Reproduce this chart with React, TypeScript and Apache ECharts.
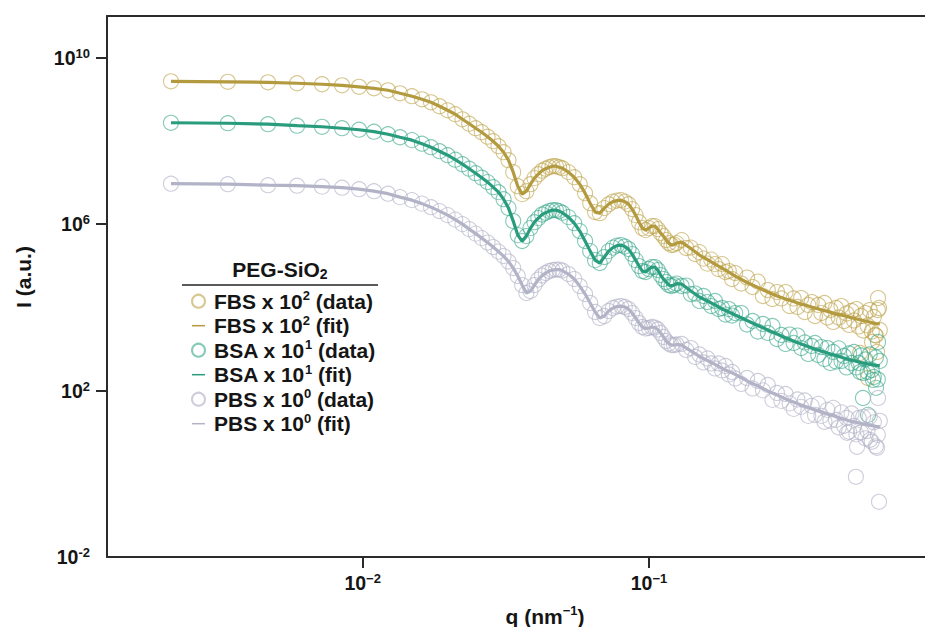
import React, { useEffect, useRef } from 'react';
import * as echarts from 'echarts';

// q grid of the measured points (nm^-1)
const qData = [
  0.00214, 0.00338, 0.00467, 0.0059, 0.00721, 0.00847, 0.00971, 0.01095, 0.01226, 0.0135, 0.01486, 0.01611, 0.01732,
  0.01855, 0.0198, 0.02105, 0.0223, 0.02355, 0.0248, 0.02605, 0.0273, 0.02855, 0.0298, 0.03105, 0.0323, 0.03355, 0.0348,
  0.03605, 0.0373, 0.03855, 0.0398, 0.04105, 0.0423, 0.04355, 0.0448, 0.04605, 0.0473, 0.04855, 0.0498,
  0.0523, 0.0548, 0.0573, 0.0598, 0.0623, 0.0648, 0.0673, 0.0698, 0.0723, 0.0748, 0.0773, 0.0798, 0.0823, 0.0848, 0.0873,
  0.0898, 0.0923, 0.0948, 0.0973, 0.0998, 0.1023, 0.1048, 0.1073, 0.1098, 0.1123, 0.1148, 0.1173, 0.1198, 0.1223, 0.1248,
  0.13, 0.135, 0.14, 0.145, 0.15, 0.155, 0.16, 0.165, 0.17, 0.175, 0.18, 0.185, 0.19, 0.195, 0.2,
  0.21, 0.22, 0.23, 0.24, 0.25, 0.26, 0.27, 0.28, 0.29, 0.3, 0.31, 0.32, 0.33, 0.34, 0.35, 0.36, 0.37, 0.38, 0.39, 0.4,
  0.41, 0.42, 0.43, 0.44, 0.45, 0.46, 0.47, 0.48, 0.49, 0.5, 0.51, 0.52, 0.53, 0.54, 0.55, 0.56, 0.57, 0.58, 0.59, 0.6,
  0.61, 0.62, 0.63, 0.64,
];

const fbsData = [
  2.70e9, 2.62e9, 2.55e9, 2.42e9, 2.29e9, 2.16e9, 1.99e9, 1.83e9, 1.64e9, 1.39e9, 1.18e9, 9.98e8, 8.45e8,
  6.78e8, 5.43e8, 4.36e8, 3.30e8, 2.58e8, 2.01e8, 1.61e8, 1.26e8, 9.79e7, 7.43e7, 5.33e7, 3.43e7, 1.77e7, 8.15e6,
  5.24e6, 6.18e6, 9.10e6, 1.27e7, 1.58e7, 1.92e7, 2.14e7, 2.33e7, 2.46e7, 2.46e7, 2.33e7, 2.20e7,
  1.77e7, 1.34e7, 9.10e6, 5.53e6, 3.18e6, 1.94e6, 1.83e6, 2.42e6, 3.01e6, 3.46e6, 3.66e6, 3.76e6, 3.46e6, 3.01e6, 2.29e6,
  1.64e6, 1.11e6, 8.00e5, 7.16e5, 8.00e5, 8.93e5, 8.93e5, 7.57e5, 6.07e5, 5.14e5, 4.12e5, 3.49e5, 3.13e5, 3.21e5, 3.49e5,
  4.12e5, 2.65e5, 2.72e5, 1.90e5, 2.12e5, 1.48e5, 1.12e5, 1.40e5, 1.09e5, 8.30e4, 1.09e5, 7.03e4, 7.43e4, 4.78e4, 6.65e4,
  3.72e4, 5.19e4, 3.07e4, 4.16e4, 1.87e4, 2.60e4, 1.58e4, 2.33e4, 1.63e4, 2.33e4, 1.07e4, 1.63e4, 1.02e4, 1.67e4, 7.71e3,
  1.14e4, 1.34e4, 6.18e3, 1.14e4, 7.29e3, 1.27e4, 5.69e3, 8.61e3, 4.44e3, 9.62e3, 5.69e3, 1.07e4, 4.69e3, 7.10e3, 3.76e3,
  8.15e3, 4.82e3, 9.10e3, 3.46e3, 6.18e3, 2.77e3, 7.29e3, 3.66e3, 8.61e3, 2.62e3, 5.85e3, 2.10e3, 8.61e3, 2.85e3,
];

const bsaData = [
  2.72e8, 2.65e8, 2.51e8, 2.31e8, 2.18e8, 2.01e8, 1.85e8, 1.66e8, 1.44e8, 1.22e8, 1.04e8, 8.53e7, 7.03e7,
  5.64e7, 4.52e7, 3.52e7, 2.75e7, 2.14e7, 1.67e7, 1.30e7, 1.02e7, 7.71e6, 5.85e6, 3.97e6, 2.42e6, 1.18e6, 5.43e5,
  3.90e5, 5.14e5, 8.00e5, 1.11e6, 1.39e6, 1.69e6, 1.88e6, 2.05e6, 2.16e6, 2.16e6, 2.05e6, 1.88e6,
  1.47e6, 1.05e6, 6.78e5, 3.90e5, 2.24e5, 1.36e5, 1.16e5, 1.61e5, 2.24e5, 2.72e5, 3.04e5, 3.13e5, 2.88e5, 2.51e5, 1.90e5,
  1.36e5, 9.79e4, 7.43e4, 7.03e4, 8.30e4, 9.27e4, 9.27e4, 7.85e4, 5.96e4, 4.78e4, 4.05e4, 3.43e4, 3.24e4, 3.43e4, 3.72e4,
  3.24e4, 3.33e4, 2.08e4, 2.14e4, 1.42e4, 1.87e4, 1.34e4, 1.07e4, 1.42e4, 9.10e3, 9.62e3, 6.71e3, 9.10e3, 6.35e3, 7.29e3,
  7.29e3, 3.86e3, 4.69e3, 2.62e3, 3.97e3, 2.42e3, 3.56e3, 1.73e3, 2.16e3, 1.32e3, 2.22e3, 1.39e3, 2.10e3, 1.05e3, 1.43e3,
  7.57e2, 1.18e3, 1.39e3, 7.16e2, 1.11e3, 5.74e2, 1.05e3, 4.60e2, 8.45e2, 5.00e2, 1.03e3, 5.14e2, 6.78e2, 3.59e2, 7.78e2,
  4.60e2, 8.45e2, 3.59e2, 4.60e2, 6.97e2, 2.65e2, 5.58e2, 2.80e2, 7.36e2, 3.13e2, 2.12e2, 6.24e2, 1.85e2, 5.14e2,
];

const pbsData = [
  9.35e6, 9.10e6, 8.61e6, 8.38e6, 7.93e6, 7.50e6, 6.90e6, 6.18e6, 5.38e6, 4.44e6, 3.76e6, 3.10e6, 2.55e6,
  2.05e6, 1.64e6, 1.28e6, 9.98e5, 7.57e5, 5.90e5, 4.60e5, 3.59e5, 2.80e5, 2.18e5, 1.70e5, 1.26e5, 8.77e4, 5.64e4,
  3.43e4, 2.20e4, 2.46e4, 3.43e4, 4.65e4, 5.79e4, 6.65e4, 7.43e4, 7.85e4, 8.07e4, 8.07e4, 7.64e4,
  6.30e4, 4.78e4, 3.24e4, 2.08e4, 1.27e4, 7.71e3, 5.53e3, 6.18e3, 8.15e3, 9.62e3, 1.04e4, 1.07e4, 1.02e4, 9.10e3, 7.29e3,
  5.53e3, 4.20e3, 3.37e3, 3.10e3, 3.18e3, 3.37e3, 3.27e3, 2.93e3, 2.42e3, 1.94e3, 1.55e3, 1.35e3, 1.24e3, 1.24e3, 1.28e3,
  1.32e3, 9.44e2, 1.05e3, 6.41e2, 7.36e2, 4.73e2, 5.90e2, 4.48e2, 3.40e2, 4.48e2, 3.04e2, 3.90e2, 2.44e2, 2.80e2, 1.95e2,
  1.44e2, 2.01e2, 1.12e2, 1.70e2, 1.01e2, 1.36e2, 59.6, 87.7, 56.4, 83.0, 49.1, 36.2, 61.2, 40.5, 57.9,
  24.6, 42.8, 26.0, 47.8, 24.6, 17.7, 34.3, 18.7, 38.3, 19.7, 13.0, 29.9, 14.2, 22.0, 10.2,
  28.2, 14.2, 8.85, 22.0, 9.89, 23.3, 7.10, 10.7, 23.9, 5.85, 17.2, 4.56, 8.61, 18.7,
];

// scattered points at the very end of the q range
const fbsTailQ = [0.631, 0.636, 0.616, 0.626, 0.582, 0.546, 0.601];
const fbsTailI = [1.67e4, 9.62e3, 2.16e3, 8.45e2, 2.01e2, 8.00e2, 1.47e3];
const bsaTailQ = [0.631, 0.606, 0.559, 0.582, 0.546, 0.621];
const bsaTailI = [1.47e3, 1.80e2, 66.5, 26.0, 2.80e2, 1.16e2];
const pbsTailQ = [0.631, 0.626, 0.528, 0.636, 0.533, 0.492, 0.592];
const pbsTailI = [66.5, 4.20, 0.845, 0.212, 4.44, 9.62, 6.53];

// q grid of the fitted curves
const qFit = [
  0.00214, 0.00338, 0.00467, 0.0059, 0.00721, 0.00847, 0.00971, 0.01095, 0.01226, 0.0135, 0.01486, 0.01611, 0.01732,
  0.01855, 0.0198, 0.02105, 0.0223, 0.02355, 0.0248, 0.02605, 0.0273, 0.02855, 0.0298, 0.03105, 0.0323, 0.03355, 0.0348,
  0.03605, 0.0373, 0.03855, 0.0398, 0.04105, 0.0423, 0.04355, 0.0448, 0.04605, 0.0473, 0.04855, 0.0498,
  0.0523, 0.0548, 0.0573, 0.0598, 0.0623, 0.0648, 0.0673, 0.0698, 0.0723, 0.0748, 0.0773, 0.0798, 0.0823, 0.0848, 0.0873,
  0.0898, 0.0923, 0.0948, 0.0973, 0.0998, 0.1023, 0.1048, 0.1073, 0.1098, 0.1123, 0.1148, 0.1173, 0.1198, 0.1223, 0.1248,
  0.13, 0.14, 0.15, 0.16, 0.17, 0.18, 0.19, 0.2, 0.22, 0.24, 0.26, 0.28, 0.3, 0.34, 0.38, 0.42, 0.46, 0.5, 0.54, 0.58,
  0.62, 0.64,
];

const fbsFit = [
  2.70e9, 2.62e9, 2.55e9, 2.42e9, 2.29e9, 2.16e9, 1.99e9, 1.83e9, 1.64e9, 1.39e9, 1.18e9, 9.98e8, 8.45e8,
  6.78e8, 5.43e8, 4.36e8, 3.30e8, 2.58e8, 2.01e8, 1.61e8, 1.26e8, 9.79e7, 7.43e7, 5.33e7, 3.43e7, 1.77e7, 8.15e6,
  5.24e6, 6.18e6, 9.10e6, 1.27e7, 1.58e7, 1.92e7, 2.14e7, 2.33e7, 2.46e7, 2.46e7, 2.33e7, 2.20e7,
  1.77e7, 1.34e7, 9.10e6, 5.53e6, 3.18e6, 1.94e6, 1.83e6, 2.42e6, 3.01e6, 3.46e6, 3.66e6, 3.76e6, 3.46e6, 3.01e6, 2.29e6,
  1.64e6, 1.11e6, 8.00e5, 7.16e5, 8.00e5, 8.93e5, 8.93e5, 7.57e5, 6.07e5, 5.14e5, 4.12e5, 3.49e5, 3.13e5, 3.21e5, 3.49e5,
  3.69e5, 2.58e5, 1.80e5, 1.40e5, 1.09e5, 8.77e4, 7.03e4, 5.64e4, 3.94e4, 2.99e4, 2.33e4, 1.87e4, 1.58e4, 1.20e4, 9.62e3,
  7.93e3, 6.71e3, 5.85e3, 5.09e3, 4.56e3, 4.08e3, 3.97e3,
];

const bsaFit = [
  2.72e8, 2.65e8, 2.51e8, 2.31e8, 2.18e8, 2.01e8, 1.85e8, 1.66e8, 1.44e8, 1.22e8, 1.04e8, 8.53e7, 7.03e7,
  5.64e7, 4.52e7, 3.52e7, 2.75e7, 2.14e7, 1.67e7, 1.30e7, 1.02e7, 7.71e6, 5.85e6, 3.97e6, 2.42e6, 1.18e6, 5.43e5,
  3.90e5, 5.14e5, 8.00e5, 1.11e6, 1.39e6, 1.69e6, 1.88e6, 2.05e6, 2.16e6, 2.16e6, 2.05e6, 1.88e6,
  1.47e6, 1.05e6, 6.78e5, 3.90e5, 2.24e5, 1.36e5, 1.16e5, 1.61e5, 2.24e5, 2.72e5, 3.04e5, 3.13e5, 2.88e5, 2.51e5, 1.90e5,
  1.36e5, 9.79e4, 7.43e4, 7.03e4, 8.30e4, 9.27e4, 9.27e4, 7.85e4, 5.96e4, 4.78e4, 4.05e4, 3.43e4, 3.24e4, 3.43e4, 3.72e4,
  3.62e4, 2.46e4, 1.77e4, 1.42e4, 1.14e4, 9.10e3, 7.71e3, 6.53e3, 4.82e3, 3.66e3, 2.85e3, 2.29e3, 1.83e3, 1.32e3, 9.98e2,
  8.00e2, 6.59e2, 5.58e2, 4.86e2, 4.36e2, 4.01e2, 3.90e2,
];

const pbsFit = [
  9.35e6, 9.10e6, 8.61e6, 8.38e6, 7.93e6, 7.50e6, 6.90e6, 6.18e6, 5.38e6, 4.44e6, 3.76e6, 3.10e6, 2.55e6,
  2.05e6, 1.64e6, 1.28e6, 9.98e5, 7.57e5, 5.90e5, 4.60e5, 3.59e5, 2.80e5, 2.18e5, 1.70e5, 1.26e5, 8.77e4, 5.64e4,
  3.43e4, 2.20e4, 2.46e4, 3.43e4, 4.65e4, 5.79e4, 6.65e4, 7.43e4, 7.85e4, 8.07e4, 8.07e4, 7.64e4,
  6.30e4, 4.78e4, 3.24e4, 2.08e4, 1.27e4, 7.71e3, 5.53e3, 6.18e3, 8.15e3, 9.62e3, 1.04e4, 1.07e4, 1.02e4, 9.10e3, 7.29e3,
  5.53e3, 4.20e3, 3.37e3, 3.10e3, 3.18e3, 3.37e3, 3.27e3, 2.93e3, 2.42e3, 1.94e3, 1.55e3, 1.35e3, 1.24e3, 1.24e3, 1.28e3,
  1.24e3, 8.93e2, 6.59e2, 5.28e2, 4.24e2, 3.40e2, 2.88e2, 2.44e2, 1.70e2, 1.29e2, 97.9, 78.5, 63.0, 45.2, 34.3,
  27.5, 22.6, 18.7, 16.7, 15.0, 13.8, 13.4,
];

const xTickValues = [0.01, 0.1];
const yLabelValues = [1e-2, 1e2, 1e6, 1e10];
const yTickValues = [1e2, 1e6, 1e10];

const seriesNames = [
  'FBS x 10² (data)', 'FBS x 10² (fit)',
  'BSA x 10¹ (data)', 'BSA x 10¹ (fit)',
  'PBS x 10⁰ (data)', 'PBS x 10⁰ (fit)',
];
const legendRichText = [
  '{f|FBS x 10}{s|2}{a| (data)}', '{f|FBS x 10}{s|2}{a| (fit)}',
  '{f|BSA x 10}{s|1}{a| (data)}', '{f|BSA x 10}{s|1}{a| (fit)}',
  '{f|PBS x 10}{s|0}{a| (data)}', '{f|PBS x 10}{s|0}{a| (fit)}',
];

const FONT = '"Liberation Sans", Arial, Helvetica, sans-serif';
const INK = '#151515';

const GOLD = '#b39a3e';
const GOLD_C = 'rgba(190,163,75,0.78)';
const TEAL = '#2a9c7e';
const TEAL_C = 'rgba(52,165,135,0.75)';
const GRAY = '#b3b3c8';
const GRAY_C = 'rgba(176,176,198,0.8)';

const pairs = (qs: number[], vs: number[]) => qs.map((q, i) => [q, vs[i]]);

export default function App() {
  const ref = useRef<HTMLDivElement>(null);

  useEffect(() => {
    if (!ref.current) return;
    const chart = echarts.init(ref.current, null, { renderer: 'svg' });

    const tickRich = {
      b: { fontSize: 19.5, fontWeight: 'bold', fontFamily: FONT, color: INK, lineHeight: 22 },
      s: { fontSize: 13, fontWeight: 'bold', fontFamily: FONT, color: INK, verticalAlign: 'top', lineHeight: 12 },
    };

    const scatter = (name: string, qs: number[], vs: number[], tq: number[], tv: number[], c: string) => ({
      name,
      type: 'scatter',
      data: pairs(qs, vs).concat(pairs(tq, tv)),
      symbol: 'circle',
      symbolSize: 15,
      itemStyle: { color: 'rgba(255,255,255,0)', borderColor: c, borderWidth: 1.1 },
      emphasis: { disabled: true },
      z: 2,
    });
    const fit = (name: string, vs: number[], c: string) => ({
      name,
      type: 'line',
      data: pairs(qFit, vs),
      symbol: 'none',
      lineStyle: { color: c, width: 3.2 },
      itemStyle: { color: c },
      emphasis: { disabled: true },
      z: 3,
    });

    const legendData = seriesNames.map((n, i) =>
      i % 2 === 1 ? { name: n, itemStyle: { opacity: 0 } } : { name: n }
    );

    chart.setOption({
      animation: false,
      backgroundColor: '#ffffff',
      grid: { left: 107, right: 0, top: 16, bottom: 70, containLabel: false },
      xAxis: [
        {
          type: 'log',
          logBase: 10,
          min: 0.001279,
          max: 0.9205,
          axisLine: { show: true, lineStyle: { color: '#2b2b2b', width: 2 } },
          axisTick: { show: true, length: 11, customValues: xTickValues, lineStyle: { color: '#2b2b2b', width: 2 } },
          minorTick: { show: false },
          splitLine: { show: false },
          axisLabel: {
            customValues: xTickValues,
            margin: 15,
            formatter: (v: number) => {
              const e = Math.round(Math.log10(v));
              return '{b|10}{s|' + (e < 0 ? '\u2212' : '') + Math.abs(e) + '}';
            },
            rich: tickRich,
          },
        },
        {
          type: 'value',
          position: 'top',
          min: 0,
          max: 1,
          axisLine: { show: true, onZero: false, lineStyle: { color: '#2b2b2b', width: 2 } },
          axisTick: { show: false },
          axisLabel: { show: false },
          splitLine: { show: false },
        },
      ],
      yAxis: {
        type: 'log',
        logBase: 10,
        min: 1e-2,
        max: 1e11,
        axisLine: { show: true, lineStyle: { color: '#2b2b2b', width: 2 } },
        axisTick: { show: true, length: 11, customValues: yTickValues, lineStyle: { color: '#2b2b2b', width: 2 } },
        minorTick: { show: false },
        splitLine: { show: false },
        axisLabel: {
          customValues: yLabelValues,
          margin: 17,
          formatter: (v: number) => {
            const e = Math.round(Math.log10(v));
            return '{b|10}{s|' + (e < 0 ? '-' : '') + Math.abs(e) + '}';
          },
          rich: tickRich,
        },
      },
      legend: {
        orient: 'vertical',
        left: 191,
        top: 289,
        padding: 0,
        itemWidth: 13,
        itemHeight: 13,
        itemGap: 1.8,
        data: legendData,
        selectedMode: false,
        lineStyle: { width: 1.5 },
        formatter: (name: string) => legendRichText[seriesNames.indexOf(name)],
        textStyle: {
          rich: {
            f: { fontSize: 21, fontWeight: 'bold', fontFamily: FONT, color: INK, lineHeight: 24.4, padding: [0, 0, 0, 4] },
            a: { fontSize: 21, fontWeight: 'bold', fontFamily: FONT, color: INK, lineHeight: 24.4 },
            s: { fontSize: 13, fontWeight: 'bold', fontFamily: FONT, color: INK, verticalAlign: 'top', lineHeight: 15 },
          },
        },
      },
      graphic: [
        {
          type: 'text',
          x: 280,
          y: 269,
          style: {
            text: '{t|PEG-SiO}{u|2}',
            align: 'center',
            verticalAlign: 'middle',
            rich: {
              t: { fontSize: 21, fontWeight: 'bold', fontFamily: FONT, fill: INK, lineHeight: 24 },
              u: { fontSize: 14, fontWeight: 'bold', fontFamily: FONT, fill: INK, verticalAlign: 'bottom', lineHeight: 14 },
            },
          },
        },
        {
          type: 'line',
          shape: { x1: 182, y1: 285, x2: 378, y2: 285 },
          style: { stroke: '#222', lineWidth: 1.5 },
        },
        {
          type: 'text',
          x: 545,
          y: 616,
          style: {
            text: '{t|q (nm}{s|\u22121}{t|)}',
            align: 'center',
            verticalAlign: 'middle',
            rich: {
              t: { fontSize: 21, fontWeight: 'bold', fontFamily: FONT, fill: INK, lineHeight: 24 },
              s: { fontSize: 13, fontWeight: 'bold', fontFamily: FONT, fill: INK, verticalAlign: 'top', lineHeight: 14 },
            },
          },
        },
        {
          type: 'text',
          x: 23,
          y: 277,
          rotation: Math.PI / 2,
          style: {
            text: 'I (a.u.)',
            align: 'center',
            verticalAlign: 'middle',
            font: 'bold 21px ' + FONT,
            fill: INK,
          },
        },
      ],
      series: [
        scatter(seriesNames[0], qData, fbsData, fbsTailQ, fbsTailI, GOLD_C),
        fit(seriesNames[1], fbsFit, GOLD),
        scatter(seriesNames[2], qData, bsaData, bsaTailQ, bsaTailI, TEAL_C),
        fit(seriesNames[3], bsaFit, TEAL),
        scatter(seriesNames[4], qData, pbsData, pbsTailQ, pbsTailI, GRAY_C),
        fit(seriesNames[5], pbsFit, GRAY),
      ],
    });

    return () => chart.dispose();
  }, []);

  return (
    <div
      ref={ref}
      style={{ position: 'fixed', left: 0, top: 0, width: 925, height: 627, background: '#fff' }}
    />
  );
}
